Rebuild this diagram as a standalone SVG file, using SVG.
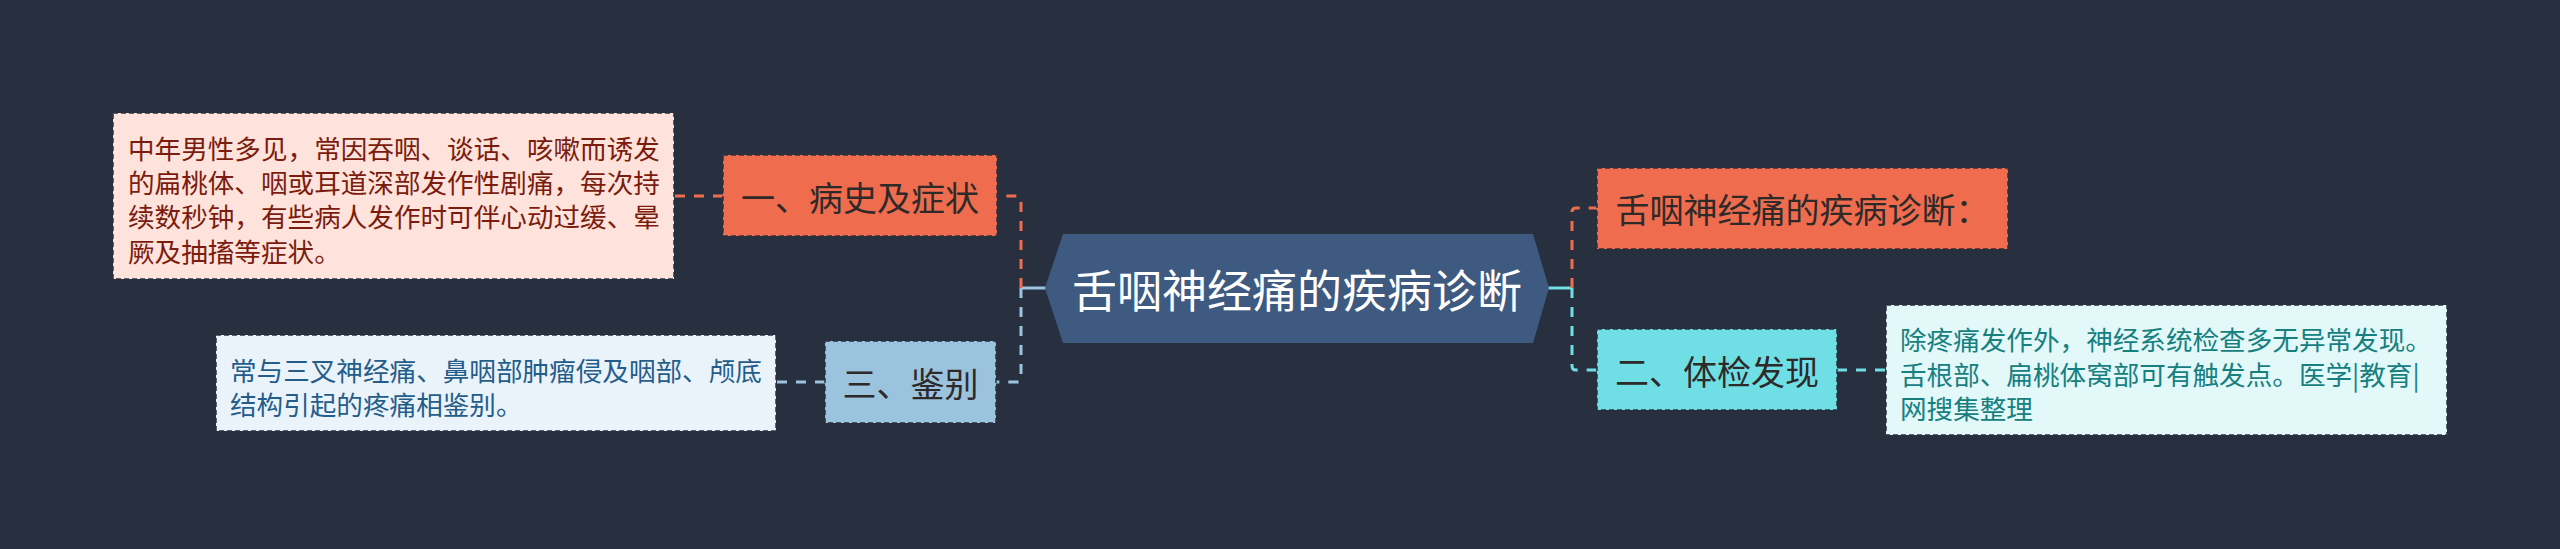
<svg xmlns="http://www.w3.org/2000/svg" width="2560" height="549" viewBox="0 0 2560 549">
<style>
text{font-family:"Noto Sans CJK SC","Microsoft YaHei",sans-serif;dominant-baseline:central}
.b{stroke:#283040;stroke-opacity:.75;stroke-width:2;stroke-dasharray:5 3}
.t1{font-size:34px;fill:#2e2a2a;text-anchor:middle}
.leaf{font-size:26.6px}
.dash{fill:none;stroke-width:3;stroke-dasharray:10 9}
.solid{fill:none;stroke-width:3}
</style>
<rect width="2560" height="549" fill="#283040"/>
<g id="connectors">
<path class="solid" d="M1047,288 H1021" stroke="#9cc4de"/>
<path class="dash" d="M1021,288 V200 Q1021,196 1017,196 H997" stroke="#ef6c4e"/>
<path class="dash" d="M1021,288 V378 Q1021,382 1017,382 H996" stroke="#9cc4de"/>
<path class="solid" d="M1548,288 H1572" stroke="#6fdfe5"/>
<path class="dash" d="M1572,288 V212 Q1572,208 1576,208 H1597" stroke="#ef6c4e"/>
<path class="dash" d="M1572,288 V366 Q1572,370 1576,370 H1597" stroke="#6fdfe5"/>
<path class="dash" d="M723,196 H674" stroke="#ef6c4e"/>
<path class="dash" d="M825,382 H776" stroke="#9cc4de"/>
<path class="dash" d="M1837,370 H1886" stroke="#6fdfe5"/>
</g>
<g id="root">
<polygon points="1045,288 1063,234 1533,234 1549,288 1533,343 1063,343" fill="#3e5a80"/>
<text x="1297" y="288" font-size="45" fill="#ffffff" text-anchor="middle">舌咽神经痛的疾病诊断</text>
</g>
<g id="n1">
<rect class="b" x="723" y="155" width="274" height="81" fill="#ef6c4e"/>
<text class="t1" x="860" y="196">一、病史及症状</text>
</g>
<g id="n1-leaf">
<rect class="b" x="113" y="113" width="561" height="166" fill="#fde3dc"/>
<text class="leaf" fill="#7b1c0e"><tspan x="128" y="147">中年男性多见，常因吞咽、谈话、咳嗽而诱发</tspan><tspan x="128" y="181">的扁桃体、咽或耳道深部发作性剧痛，每次持</tspan><tspan x="128" y="215">续数秒钟，有些病人发作时可伴心动过缓、晕</tspan><tspan x="128" y="250">厥及抽搐等症状。</tspan></text>
</g>
<g id="n3">
<rect class="b" x="825" y="341" width="171" height="82" fill="#9bc3dd"/>
<text class="t1" x="910.5" y="382">三、鉴别</text>
</g>
<g id="n3-leaf">
<rect class="b" x="216" y="335" width="560" height="96" fill="#eaf3fa"/>
<text class="leaf" fill="#255d8a"><tspan x="230" y="369">常与三叉神经痛、鼻咽部肿瘤侵及咽部、颅底</tspan><tspan x="230" y="403">结构引起的疼痛相鉴别。</tspan></text>
</g>
<g id="n0">
<rect class="b" x="1597" y="168" width="411" height="81" fill="#ef6c4e"/>
<text class="t1" x="1802.5" y="208">舌咽神经痛的疾病诊断：</text>
</g>
<g id="n2">
<rect class="b" x="1597" y="329" width="240" height="81" fill="#6fdfe5"/>
<text class="t1" x="1717" y="370">二、体检发现</text>
</g>
<g id="n2-leaf">
<rect class="b" x="1886" y="305" width="561" height="130" fill="#e2f8f9"/>
<text class="leaf" fill="#17807f"><tspan x="1900" y="338">除疼痛发作外，神经系统检查多无异常发现。</tspan><tspan x="1900" y="373">舌根部、扁桃体窝部可有触发点。医学|教育|</tspan><tspan x="1900" y="407">网搜集整理</tspan></text>
</g>
</svg>
